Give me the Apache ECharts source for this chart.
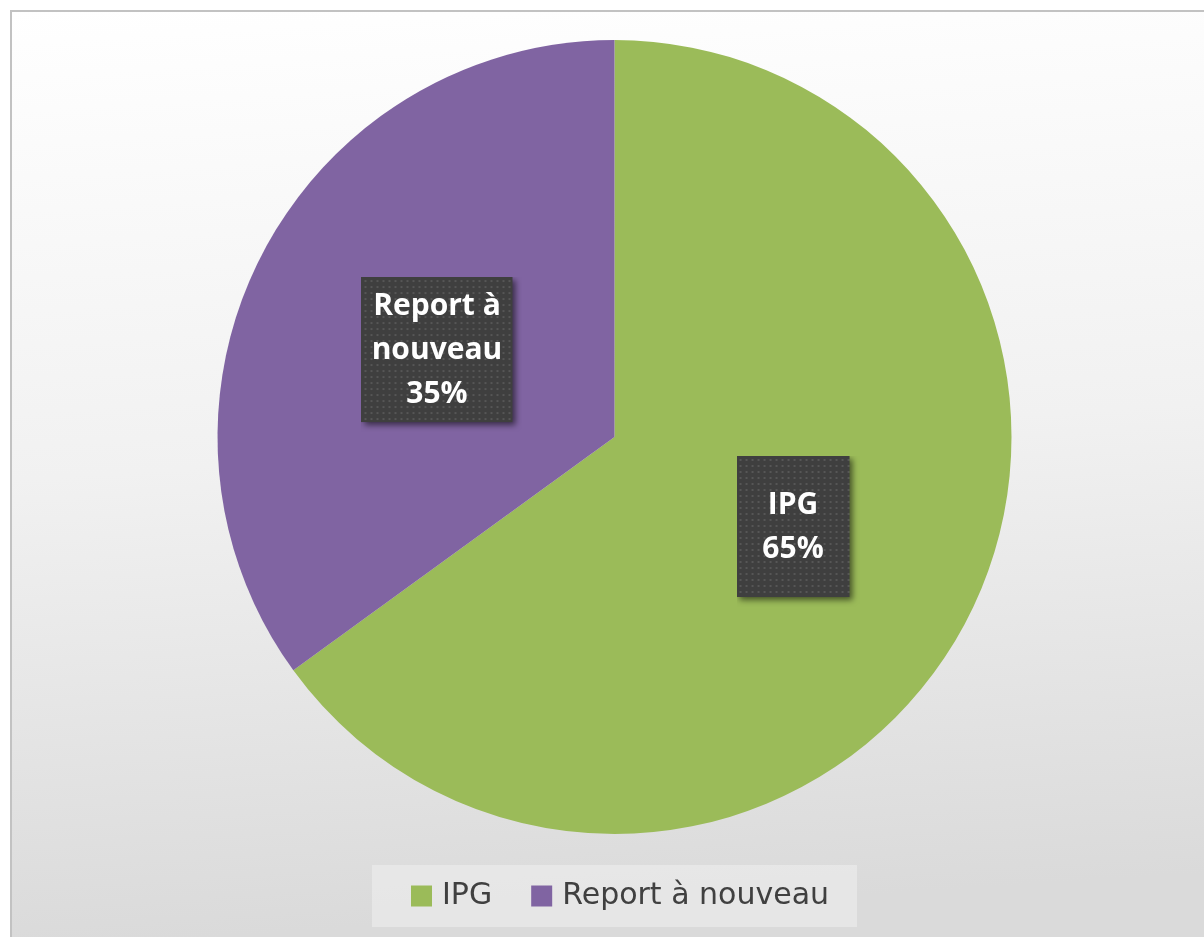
<!DOCTYPE html>
<html>
<head>
<meta charset="utf-8">
<script src="https://cdn.jsdelivr.net/npm/echarts@6/dist/echarts.min.js"></script>
<style>
    html, body { margin: 0; padding: 0; background: #ffffff; }
    #chart { width: 1204px; height: 937px; }
</style>
</head>
<body>
<div id="chart"></div>
<script>
const categories = ['IPG', 'Report à nouveau'];
const labelNames = ['IPG', 'Report à\nnouveau'];
const values = [65, 35];
const sliceColors = ['#9BBB59', '#8064A2'];

// extra room right/bottom of each label box, used for its drop shadow
const SHADOW = 10;

// dark dotted box with a drop shadow, drawn as the label background
function labelBackground(w, h) {
    const c = document.createElement('canvas');
    c.width = w + SHADOW;
    c.height = h + SHADOW;
    const ctx = c.getContext('2d');
    ctx.save();
    ctx.shadowColor = 'rgba(0,0,0,0.55)';
    ctx.shadowBlur = 6;
    ctx.shadowOffsetX = 3;
    ctx.shadowOffsetY = 3;
    ctx.fillStyle = '#3f3f3f';
    ctx.fillRect(0, 0, w, h);
    ctx.restore();
    ctx.fillStyle = '#565656';
    for (let y = 3; y < h - 1; y += 6) {
        for (let x = 3; x < w - 1; x += 6) {
            ctx.fillRect(x, y, 2, 2);
        }
    }
    return c.toDataURL();
}

const labelBoxes = [
    { w: 113, h: 141, padding: [27, 10, 26, 10], offset: [-1, -2] },
    { w: 151, h: 145, padding: [7, 8, 6, 8], offset: [2, 4] },
];

const chart = echarts.init(document.getElementById('chart'));

const option = {
    backgroundColor: '#ffffff',
    animation: false,
    graphic: [
        {
            type: 'rect',
            z: -10,
            shape: { x: 11, y: 11, width: 1200, height: 934 },
            style: {
                fill: new echarts.graphic.LinearGradient(0, 0, 0.05, 1, [
                    { offset: 0, color: '#ffffff' },
                    { offset: 0.5, color: '#f1f1f1' },
                    { offset: 1, color: '#dadada' },
                ]),
                stroke: '#c2c2c2',
                lineWidth: 2,
            },
        },
    ],
    legend: {
        left: 372,
        top: 865,
        padding: [16, 28, 16, 39],
        backgroundColor: 'rgba(242,242,242,0.5)',
        itemWidth: 21,
        itemHeight: 21,
        itemGap: 39,
        icon: 'rect',
        textStyle: {
            fontFamily: 'DejaVu Sans',
            fontSize: 30,
            lineHeight: 28,
            color: '#404040',
            padding: [0, 0, 0, 5],
        },
        data: categories,
    },
    series: [
        {
            type: 'pie',
            center: [614.5, 437],
            radius: 397,
            startAngle: 90,
            clockwise: true,
            label: {
                show: true,
                position: 'inside',
                align: 'center',
                formatter: (p) => {
                    const lines = (labelNames[p.dataIndex] + '\n' + Math.round(p.percent) + '%').split('\n');
                    return lines.map((t) => '{t|' + t + '}').join('\n');
                },
                rich: {
                    t: {
                        fontFamily: 'Open Sans',
                        fontWeight: 'bold',
                        fontSize: 30,
                        lineHeight: 44,
                        color: '#ffffff',
                        align: 'center',
                    },
                },
            },
            labelLine: { show: false },
            emphasis: { disabled: true },
            data: categories.map((name, i) => {
                const b = labelBoxes[i];
                return {
                    name: name,
                    value: values[i],
                    itemStyle: { color: sliceColors[i] },
                    label: {
                        width: b.w - b.padding[1] - b.padding[3],
                        padding: [b.padding[0], b.padding[1] + SHADOW, b.padding[2] + SHADOW, b.padding[3]],
                        offset: [b.offset[0] + SHADOW / 2, b.offset[1] + SHADOW / 2],
                        backgroundColor: { image: labelBackground(b.w, b.h) },
                    },
                };
            }),
        },
    ],
};

chart.setOption(option);
</script>
</body>
</html>
